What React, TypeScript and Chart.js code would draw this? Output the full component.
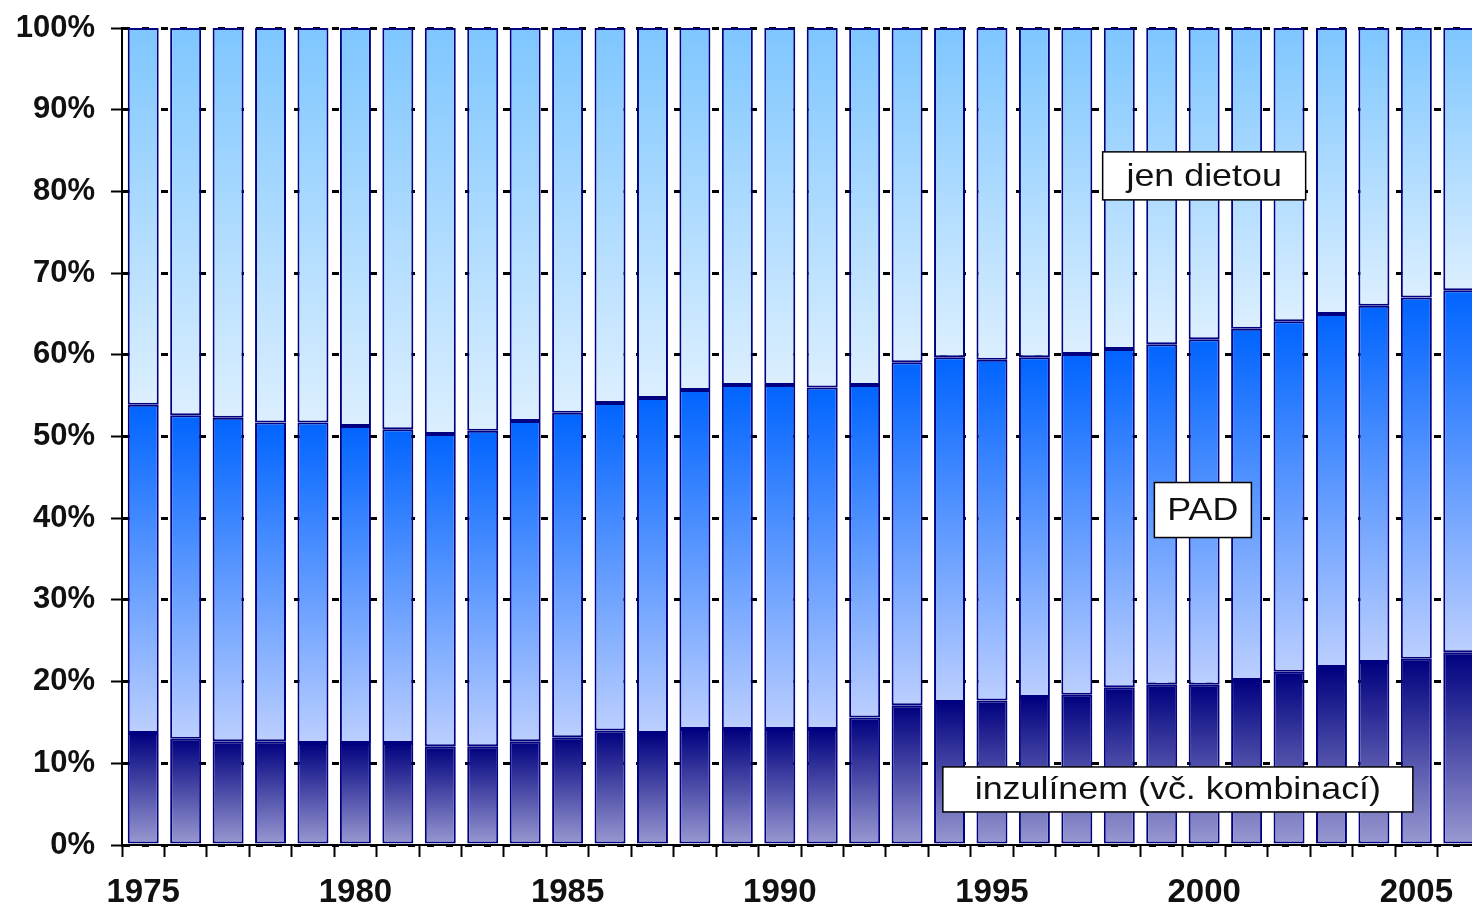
import React, { useEffect, useRef } from 'react';
import { Chart, registerables } from 'chart.js';

Chart.register(...registerables);

// ---- data (percent shares) ----
const years = [
  1975, 1976, 1977, 1978, 1979, 1980, 1981, 1982, 1983, 1984, 1985, 1986, 1987, 1988, 1989, 1990,
  1991, 1992, 1993, 1994, 1995, 1996, 1997, 1998, 1999, 2000, 2001, 2002, 2003, 2004, 2005, 2006,
];
const insulin = [
  13.7, 13.0, 12.7, 12.7, 12.5, 12.5, 12.5, 12.1, 12.1, 12.7, 13.2, 14.0, 13.7, 14.2, 14.2, 14.2,
  14.2, 15.6, 17.1, 17.5, 17.7, 18.1, 18.4, 19.3, 19.6, 19.6, 20.2, 21.2, 21.8, 22.4, 22.8, 23.6,
];
const pad = [
  40.2, 39.6, 39.6, 39.0, 39.2, 38.8, 38.4, 38.2, 38.6, 39.2, 39.7, 40.1, 41.0, 41.5, 42.1, 42.1,
  41.8, 40.7, 42.0, 42.2, 41.7, 41.6, 41.7, 41.4, 41.7, 42.3, 43.0, 42.9, 43.2, 43.6, 44.2, 44.3,
];
const diet = [
  46.1, 47.4, 47.7, 48.3, 48.3, 48.7, 49.1, 49.7, 49.3, 48.1, 47.1, 45.9, 45.3, 44.3, 43.7, 43.7,
  44.0, 43.7, 40.9, 40.3, 40.6, 40.3, 39.9, 39.3, 38.7, 38.1, 36.8, 35.9, 35.0, 34.0, 33.0, 32.1,
];
const seriesNames = ['inzulínem (vč. kombinací)', 'PAD', 'jen dietou'];
const yTicks = [0, 10, 20, 30, 40, 50, 60, 70, 80, 90, 100];

// text boxes placed in data coordinates (category index, percent)
const boxLabels = [
  { text: 'jen dietou', at: 25.0, value: 81.9, w: 203, h: 48 },
  { text: 'PAD', at: 24.97, value: 41.0, w: 97, h: 55 },
  { text: 'inzulínem (vč. kombinací)', at: 24.38, value: 6.8, w: 470, h: 45 },
];

const seriesList = [insulin, pad, diet];
const gradients = [
  ['#00007f', '#9a9ad2'],
  ['#0064ff', '#bccfff'],
  ['#7ec6ff', '#dcefff'],
];

const FONT = "'Liberation Sans', Arial, sans-serif";

function gradientFill(dsIndex: number) {
  const [top, bottom] = gradients[dsIndex];
  return (ctx: any) => {
    const chart = ctx.chart;
    const y = chart.scales && chart.scales.y;
    if (ctx.type !== 'data' || !y) return top;
    const i = ctx.dataIndex;
    let base = 0;
    for (let k = 0; k < dsIndex; k++) base += seriesList[k][i];
    const val = seriesList[dsIndex][i];
    const yTop = y.getPixelForValue(base + val);
    const yBot = y.getPixelForValue(base);
    if (!isFinite(yTop) || !isFinite(yBot) || yTop === yBot) return top;
    const g = chart.ctx.createLinearGradient(0, yTop, 0, yBot);
    g.addColorStop(0, top);
    g.addColorStop(1, bottom);
    return g;
  };
}

const boxPlugin = {
  id: 'boxLabels',
  afterDatasetsDraw(chart: any) {
    const { ctx, scales } = chart;
    const xs = scales.x;
    const ys = scales.y;
    const x0 = xs.getPixelForValue(0);
    const x1 = xs.getPixelForValue(1);
    ctx.save();
    for (const b of boxLabels) {
      const cx = x0 + b.at * (x1 - x0);
      const cy = ys.getPixelForValue(b.value);
      ctx.fillStyle = '#ffffff';
      ctx.fillRect(cx - b.w / 2, cy - b.h / 2, b.w, b.h);
      ctx.strokeStyle = '#000000';
      ctx.lineWidth = 1.5;
      ctx.strokeRect(cx - b.w / 2, cy - b.h / 2, b.w, b.h);
      ctx.save();
      ctx.translate(cx, cy + 1);
      ctx.scale(1.12, 1);
      ctx.fillStyle = '#111111';
      ctx.font = `32px ${FONT}`;
      ctx.textAlign = 'center';
      ctx.textBaseline = 'middle';
      ctx.fillText(b.text, 0, 0);
      ctx.restore();
    }
    ctx.restore();
  },
};

export default function App() {
  const ref = useRef<HTMLCanvasElement | null>(null);

  useEffect(() => {
    if (!ref.current) return;
    const chart = new Chart(ref.current, {
      type: 'bar',
      data: {
        labels: years.map(String),
        datasets: seriesList.map((arr, k) => ({
          label: seriesNames[k],
          data: arr,
          backgroundColor: gradientFill(k),
          borderColor: '#000080',
          borderWidth: 2,
          borderSkipped: false,
          barPercentage: 0.73,
          categoryPercentage: 1,
        })),
      },
      options: {
        responsive: false,
        animation: false,
        events: [],
        layout: { padding: { left: 0, right: 10, top: 28, bottom: 0 } },
        plugins: { legend: { display: false }, tooltip: { enabled: false } },
        scales: {
          x: {
            stacked: true,
            offset: true,
            grid: {
              display: true,
              offset: true,
              drawOnChartArea: false,
              drawTicks: true,
              tickLength: 12,
              tickColor: '#000',
              tickWidth: 2,
            },
            border: { display: true, color: '#000', width: 2 },
            ticks: {
              autoSkip: false,
              maxRotation: 0,
              minRotation: 0,
              padding: 16,
              color: '#111',
              font: { family: FONT, size: 33, weight: 'bold' },
              callback: (_v: any, idx: number) => (years[idx] % 5 === 0 ? String(years[idx]) : ''),
            },
            afterFit: (scale: any) => {
              scale.height = 64;
              scale.paddingLeft = 0;
              scale.paddingRight = 0;
            },
          },
          y: {
            stacked: true,
            min: 0,
            max: 100,
            afterBuildTicks: (scale: any) => {
              scale.ticks = yTicks.map((v) => ({ value: v }));
            },
            grid: {
              display: true,
              drawOnChartArea: true,
              drawTicks: true,
              color: '#000',
              lineWidth: 3,
              tickLength: 11,
              tickColor: '#000',
              tickWidth: 2,
              tickBorderDash: [],
            },
            border: { display: true, color: '#000', width: 2, dash: [7, 12] },
            ticks: {
              padding: 16,
              color: '#111',
              font: { family: FONT, size: 31, weight: 'bold' },
              callback: (v: any) => `${v}%`,
            },
            afterFit: (scale: any) => {
              scale.width = 122;
              scale.paddingTop = 0;
              scale.paddingBottom = 0;
            },
          },
        },
      },
      plugins: [boxPlugin],
    } as any);
    return () => chart.destroy();
  }, []);

  return (
    <div
      style={{
        position: 'fixed',
        left: 0,
        top: 0,
        width: 1472,
        height: 909,
        overflow: 'hidden',
        background: '#fff',
      }}
    >
      <canvas ref={ref} width={1490} height={909} style={{ display: 'block', width: 1490, height: 909 }} />
    </div>
  );
}
